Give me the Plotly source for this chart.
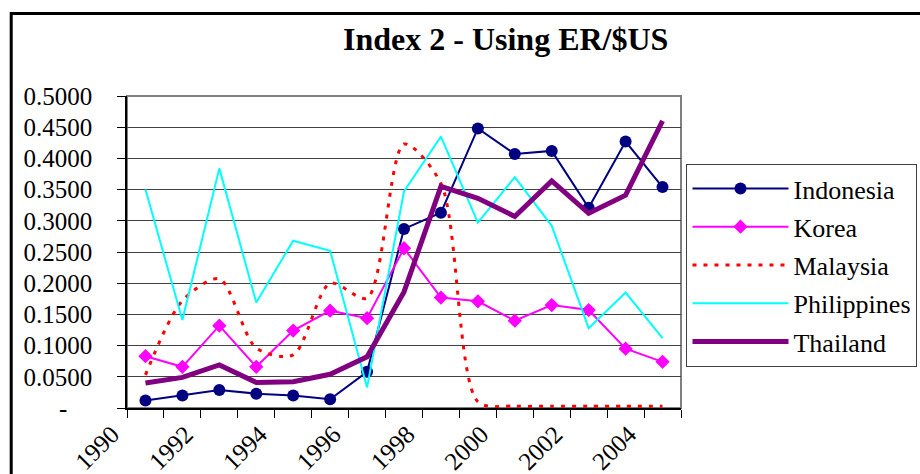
import plotly.graph_objects as go

years = list(range(1990, 2005))
tick_years = list(range(1990, 2006))
tick_labels = [str(y) if (y % 2 == 0 and y < 2005) else "" for y in tick_years]

indonesia = [0.012, 0.020, 0.029, 0.023, 0.020, 0.014, 0.058, 0.287, 0.313, 0.448, 0.407, 0.412, 0.321, 0.427, 0.354]
korea = [0.083, 0.066, 0.132, 0.066, 0.124, 0.156, 0.144, 0.256, 0.177, 0.171, 0.140, 0.165, 0.157, 0.095, 0.074]
malaysia = [0.053, 0.172, 0.207, 0.096, 0.085, 0.200, 0.176, 0.423, 0.360, 0.010, 0.003, 0.003, 0.003, 0.003, 0.003]
philippines = [0.350, 0.141, 0.384, 0.169, 0.268, 0.252, 0.033, 0.347, 0.435, 0.297, 0.370, 0.292, 0.128, 0.185, 0.112]
thailand = [0.040, 0.049, 0.069, 0.041, 0.042, 0.054, 0.082, 0.186, 0.355, 0.336, 0.307, 0.364, 0.312, 0.341, 0.460]

y_ticks = [0, 0.05, 0.1, 0.15, 0.2, 0.25, 0.3, 0.35, 0.4, 0.45, 0.5]
y_labels = ["-\u00a0\u00a0\u00a0\u00a0"] + [f"{v:.4f}" for v in y_ticks[1:]]

xs = [y + 0.5 for y in years]
FONT = '"Liberation Serif", "Times New Roman", "DejaVu Serif", serif'

fig = go.Figure()
fig.add_trace(go.Scatter(x=xs, y=indonesia, name="Indonesia", mode="lines+markers",
                         line=dict(color="#000080", width=2),
                         marker=dict(symbol="circle", size=12, color="#000080"),
                         legendgroup="a"))
fig.add_trace(go.Scatter(x=xs, y=korea, name="Korea", mode="lines+markers",
                         line=dict(color="#FF00FF", width=2),
                         marker=dict(symbol="diamond", size=11, color="#FF00FF"),
                         legendgroup="b"))
fig.add_trace(go.Scatter(x=xs, y=malaysia, name="Malaysia", mode="lines",
                         line=dict(color="#FF0000", width=3, dash="4px,7px", shape="spline", smoothing=0.8),
                         legendgroup="c"))
fig.add_trace(go.Scatter(x=xs, y=philippines, name="Philippines", mode="lines",
                         line=dict(color="#00FFFF", width=2),
                         legendgroup="d"))
fig.add_trace(go.Scatter(x=xs, y=thailand, name="Thailand", mode="lines",
                         line=dict(color="#800080", width=5),
                         legendgroup="e"))

L, R, T, B = 126.5, 681.5, 96, 408
W, H = 920, 474
pw, ph = R - L, B - T

def px2x(p):
    return (p - L) / pw

def py2y(p):
    return (B - p) / ph

fig.update_layout(
    width=W, height=H,
    margin=dict(l=L, r=W - R, t=T, b=H - B, pad=0, autoexpand=False),
    paper_bgcolor="white", plot_bgcolor="white",
    font=dict(family=FONT, size=25, color="black"),
    showlegend=True,
    legend=dict(x=px2x(687), y=py2y(164), xanchor="left", yanchor="top",
                bordercolor="#404040", borderwidth=1, bgcolor="white",
                font=dict(family=FONT, size=26, color="black"),
                itemwidth=96, tracegroupgap=1.5, traceorder="grouped"),
    annotations=[dict(text="<b>Index 2 - Using ER/$US</b>", xref="paper", yref="paper",
                      x=px2x(506), y=py2y(59), xanchor="center", yanchor="bottom",
                      showarrow=False, font=dict(family=FONT, size=32, color="black"))],
    shapes=[
        dict(type="rect", xref="paper", yref="paper", x0=0, x1=1, y0=0, y1=1,
             line=dict(color="#808080", width=2), layer="below"),
        dict(type="rect", xref="paper", yref="paper", x0=px2x(10.5), x1=px2x(935),
             y0=py2y(485), y1=py2y(13.5), line=dict(color="black", width=3), layer="above"),
    ],
)

fig.update_xaxes(range=[1990, 2005], tickmode="array", tickvals=tick_years, ticktext=tick_labels,
                 tickangle=-45, ticks="outside", ticklen=8, tickcolor="black", tickwidth=1,
                 showline=True, linecolor="black", linewidth=1.5, showgrid=False, zeroline=False,
                 ticklabelshift=-15, ticklabelstandoff=-8,
                 tickfont=dict(family=FONT, size=25))
fig.update_yaxes(range=[0, 0.5], tickmode="array", tickvals=y_ticks, ticktext=y_labels,
                 ticks="outside", ticklen=8, tickcolor="black", tickwidth=1,
                 showline=True, linecolor="black", linewidth=1.5,
                 showgrid=True, gridcolor="#404040", gridwidth=1, zeroline=False,
                 ticklabelstandoff=20, tickfont=dict(family=FONT, size=25))

fig.write_html("out.html", config={"displayModeBar": False},
               post_script="document.body.style.margin='0';document.body.style.padding='0';")
